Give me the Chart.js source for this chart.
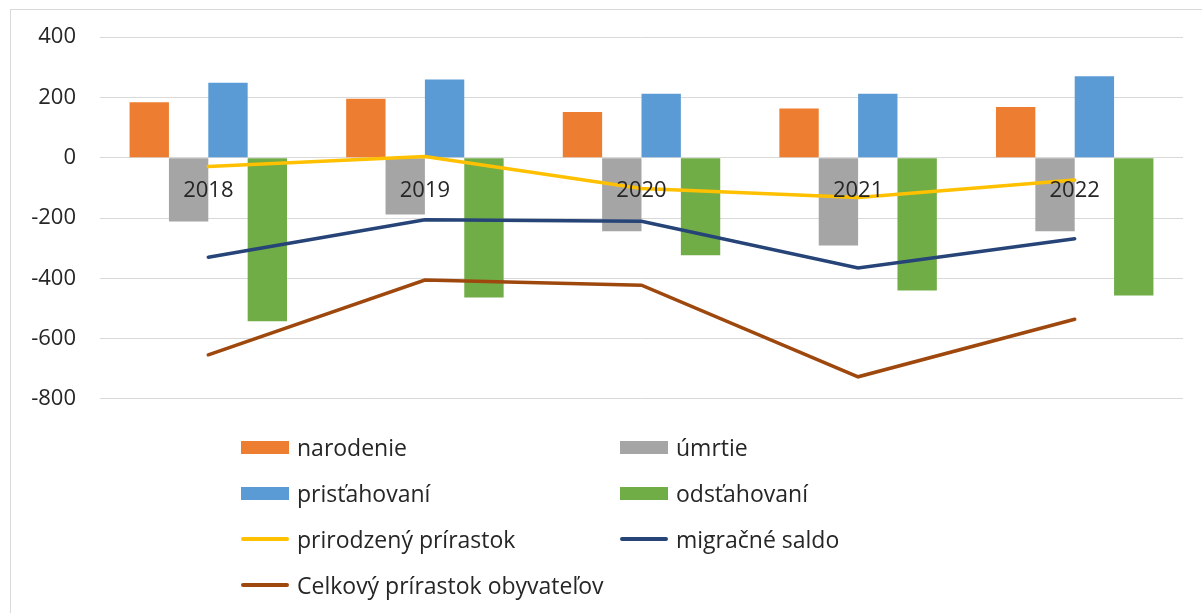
<!DOCTYPE html>
<html>
<head>
<meta charset="utf-8">
<script src="https://cdn.jsdelivr.net/npm/chart.js@4/dist/chart.umd.min.js"></script>
<style>
    body { margin: 0; background: #fff; width: 1202px; height: 613px; overflow: hidden; position: relative; font-family: "Open Sans", sans-serif; }
    #frame { position: absolute; left: 10px; top: 9px; width: 1200px; height: 620px; border-left: 1px solid #d9d9d9; border-top: 1px solid #d9d9d9; }
    #chart { position: absolute; left: 0; top: 0; }
    #legend { position: absolute; left: 241px; top: 424px; display: grid; grid-template-columns: 379px 300px; grid-auto-rows: 46px; }
    .item { display: flex; align-items: center; font-size: 23px; color: #262626; }
    .swatch { width: 48px; margin-right: 8px; flex: none; }
    .swatch.box { height: 13px; }
    .swatch.line { height: 4px; border-radius: 2px; }
</style>
</head>
<body>
<div id="frame"></div>
<canvas id="chart" width="1202" height="436"></canvas>
<div id="legend"></div>
<script>
const years = ['2018', '2019', '2020', '2021', '2022'];
const narodenie = [184, 196, 152, 163, 168];
const umrtie = [-212, -188, -244, -291, -244];
const pristahovani = [249, 260, 212, 212, 270];
const odstahovani = [-543, -464, -324, -441, -457];
const prirodzenyPrirastok = [-29, 4, -102, -132, -74];
const migracneSaldo = [-330, -206, -211, -366, -269];
const celkovyPrirastok = [-654, -406, -423, -727, -536];
const yTicks = [400, 200, 0, -200, -400, -600, -800];

const font = { family: '"Open Sans", sans-serif', size: 22 };

function bar(label, data, color) {
    return { type: 'bar', label, data, backgroundColor: color, borderWidth: 0, order: 2,
        categoryPercentage: 0.727, barPercentage: 1 };
}
function line(label, data, color) {
    return { type: 'line', label, data, borderColor: color, backgroundColor: color, borderWidth: 3.5,
        pointRadius: 0, tension: 0, order: 1, borderCapStyle: 'round' };
}

const chart = new Chart(document.getElementById('chart'), {
    data: {
        labels: years,
        datasets: [
            bar('narodenie', narodenie, '#ED7D31'),
            bar('úmrtie', umrtie, '#A5A5A5'),
            bar('prisťahovaní', pristahovani, '#5B9BD5'),
            bar('odsťahovaní', odstahovani, '#70AD47'),
            line('prirodzený prírastok', prirodzenyPrirastok, '#FFC000'),
            line('migračné saldo', migracneSaldo, '#264478'),
            line('Celkový prírastok obyvateľov', celkovyPrirastok, '#9E480E'),
        ]
    },
    options: {
        responsive: false,
        animation: false,
        layout: { padding: { left: 10, right: 19, top: 34, bottom: 27 } },
        plugins: { legend: { display: false }, tooltip: { enabled: false } },
        scales: {
            x: {
                position: { y: 0 },
                grid: { display: false, drawTicks: false },
                border: { display: false },
                // z: 1 puts the year labels on top of the bars
                ticks: { z: 1, color: '#262626', font, padding: 20, maxRotation: 0 }
            },
            y: {
                min: -800, max: 400,
                afterBuildTicks: scale => { scale.ticks = yTicks.map(v => ({ value: v })); },
                afterFit: scale => { scale.width = 90; },
                grid: { color: '#d9d9d9', drawTicks: false },
                border: { display: false },
                ticks: { color: '#262626', font, padding: 24 }
            }
        }
    }
});

// legend in two columns, like the original
const legend = document.getElementById('legend');
chart.data.datasets.forEach(ds => {
    const item = document.createElement('div');
    item.className = 'item';
    const sw = document.createElement('span');
    sw.className = 'swatch ' + (ds.type === 'bar' ? 'box' : 'line');
    sw.style.background = ds.type === 'bar' ? ds.backgroundColor : ds.borderColor;
    item.appendChild(sw);
    item.appendChild(document.createTextNode(ds.label));
    legend.appendChild(item);
});
</script>
</body>
</html>
